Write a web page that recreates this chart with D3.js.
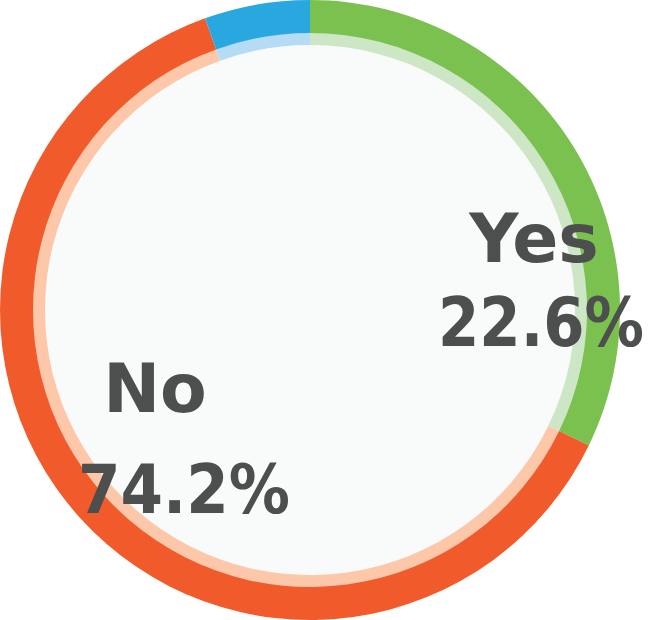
<!DOCTYPE html>
<html>
<head>
<meta charset="utf-8">
<script src="https://cdn.jsdelivr.net/npm/d3@7"></script>
<style>
  html, body { margin: 0; padding: 0; background: #ffffff; }
  svg { display: block; }
</style>
</head>
<body>
<div id="chart"></div>
<script>
// Survey answer split (ring shares as drawn, labels as printed)
const categories = ['Yes', 'No', 'Other'];
const arcShares = [32.2, 62.3, 5.5];
const labelPercents = ['22.6%', '74.2%', null];
const ringColors = ['#7bc14f', '#f15a2b', '#29a8e0'];
const innerColors = ['#cde6c6', '#fdc8aa', '#b6dcf5'];

const width = 656;
const height = 620;
const cx = 310, cy = 310;
const outerR = 310, ringInnerR = 277, lightInnerR = 265;

const svg = d3.select('#chart')
    .append('svg')
    .attr('width', width)
    .attr('height', height);

const g = svg.append('g').attr('transform', `translate(${cx},${cy})`);

// Centre fill
g.append('circle')
    .attr('r', lightInnerR)
    .attr('fill', '#f9fbfb');

const pie = d3.pie().sort(null).value(d => d.share);
const slices = pie(categories.map((c, i) => ({ name: c, share: arcShares[i], i })));

const outerArc = d3.arc().innerRadius(ringInnerR).outerRadius(outerR);
const innerArc = d3.arc().innerRadius(lightInnerR).outerRadius(ringInnerR + 0.5);

g.selectAll('.inner-ring')
    .data(slices)
    .enter()
    .append('path')
    .attr('class', 'inner-ring')
    .attr('d', innerArc)
    .attr('fill', d => innerColors[d.data.i]);

g.selectAll('.outer-ring')
    .data(slices)
    .enter()
    .append('path')
    .attr('class', 'outer-ring')
    .attr('d', outerArc)
    .attr('fill', d => ringColors[d.data.i]);

// Label placement (offsets from centre)
const labelPos = [
    { x: 224, y: -48, px: 231, dy: 84, w: 206 },
    { x: -155, y: 102, px: -126, dy: 101, w: 212 }
];

categories.forEach((c, i) => {
    if (!labelPercents[i]) return;
    const p = labelPos[i];
    const t = g.append('text')
        .attr('text-anchor', 'middle')
        .attr('font-family', '"DejaVu Sans", sans-serif')
        .attr('font-weight', 'bold')
        .attr('font-size', '68px')
        .attr('fill', '#4d4f4e');
    t.append('tspan').attr('x', p.x).attr('y', p.y).text(c);
    t.append('tspan')
        .attr('x', p.px)
        .attr('y', p.y + p.dy)
        .attr('textLength', p.w)
        .attr('lengthAdjust', 'spacingAndGlyphs')
        .text(labelPercents[i]);
});
</script>
</body>
</html>
